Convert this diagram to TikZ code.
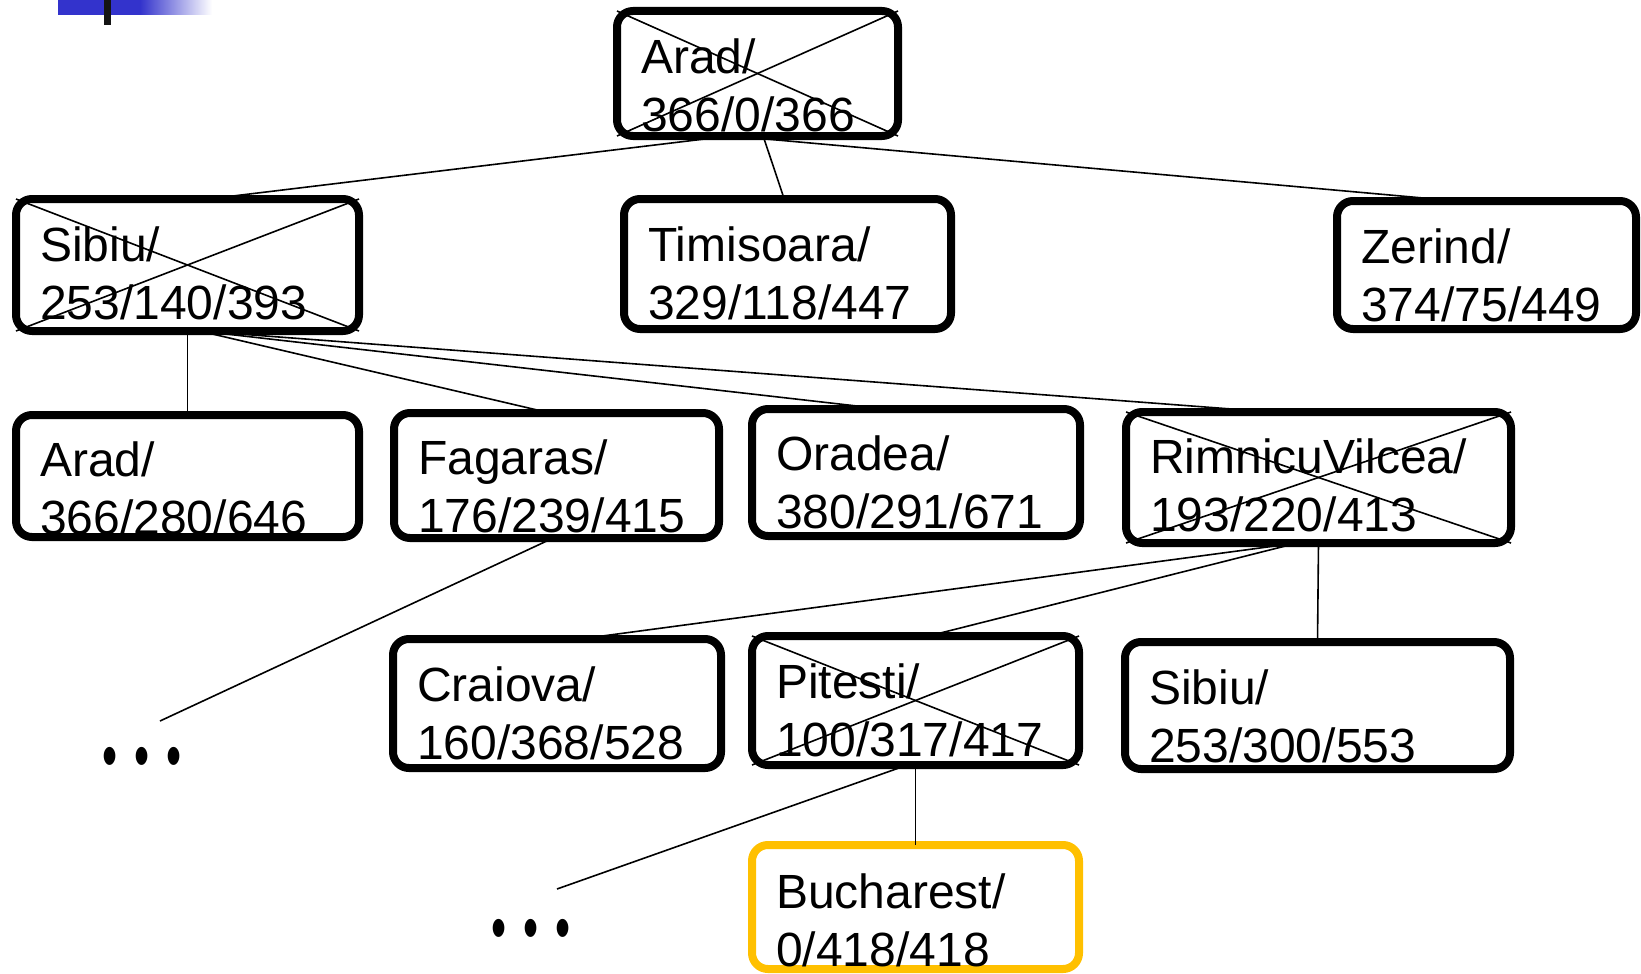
\documentclass[tikz,border=0pt]{standalone}
\usepackage{fontspec}
\setmainfont{Liberation Sans}
\usepackage{graphicx}
\usetikzlibrary{calc}
\definecolor{slideblue}{RGB}{51,51,204}
\definecolor{goalgold}{RGB}{255,192,0}
\definecolor{barblack}{RGB}{20,20,20}
\tikzset{
  box/.style={draw, line width=8pt, rounded corners=16pt, inner sep=0pt, outer sep=0pt},
  goal/.style={box, draw=goalgold},
  lbl/.style={anchor=north west, inner sep=0pt, align=left,
              font=\fontsize{48}{58}\selectfont},
  link/.style={line width=1.6pt},
  strike/.style={line width=1.6pt},
  dots/.style={inner sep=0pt, font=\fontsize{43}{43}\selectfont}
}
\newcommand\threedots{\scalebox{1}[1.55]{\textbullet\hspace{17pt}\textbullet\hspace{17pt}\textbullet}}
\begin{document}
\begin{tikzpicture}[x=1pt,y=-1pt]
\useasboundingbox (0,0) rectangle (1641,974);

% slide ornament in the corner
\fill[slideblue] (58,0) rectangle (140,15);
\shade[left color=slideblue, right color=white] (140,0) rectangle (212,15);
\fill[barblack] (104,0) rectangle (111,25);

% search tree nodes
\node[box, minimum width=281pt, minimum height=125pt] (a0) at (757.5,73.5) {};
\node[box, minimum width=343pt, minimum height=132pt] (s1) at (187.5,265) {};
\node[box, minimum width=327pt, minimum height=130pt] (t)  at (787.5,264) {};
\node[box, minimum width=299pt, minimum height=128pt] (z)  at (1486.5,265) {};
\node[box, minimum width=343pt, minimum height=122pt] (a2) at (187.5,476) {};
\node[box, minimum width=325pt, minimum height=125pt] (f)  at (556.5,475.5) {};
\node[box, minimum width=328pt, minimum height=127pt] (o)  at (916,472.5) {};
\node[box, minimum width=385pt, minimum height=131pt] (r)  at (1318.5,477.5) {};
\node[box, minimum width=328pt, minimum height=129pt] (c)  at (557,703.5) {};
\node[box, minimum width=327pt, minimum height=129pt] (p)  at (915.5,700.5) {};
\node[box, minimum width=385pt, minimum height=127pt] (s2) at (1317.5,705.5) {};
\node[goal, minimum width=327pt, minimum height=124pt] (b)  at (915.5,907) {};

% labels: city / h / g / f
\node[lbl] (a0t) at ($(a0.north west)+(24,28)$) {Arad/\\366/0/366};
\node[lbl] (s1t) at ($(s1.north west)+(24,28)$) {Sibiu/\\253/140/393};
\node[lbl] (tt)  at ($(t.north west)+(24,28)$)  {Timisoara/\\329/118/447};
\node[lbl] (zt)  at ($(z.north west)+(24,28)$)  {Zerind/\\374/75/449};
\node[lbl] (a2t) at ($(a2.north west)+(24,27)$) {Arad/\\366/280/646};
\node[lbl] (ft)  at ($(f.north west)+(24,27)$)  {Fagaras/\\176/239/415};
\node[lbl] (ot)  at ($(o.north west)+(24,27)$)  {Oradea/\\380/291/671};
\node[lbl] (rt)  at ($(r.north west)+(24,27)$)  {RimnicuVilcea/\\193/220/413};
\node[lbl] (ct)  at ($(c.north west)+(24,28)$)  {Craiova/\\160/368/528};
\node[lbl] (pt)  at ($(p.north west)+(24,28)$)  {Pitesti/\\100/317/417};
\node[lbl] (s2t) at ($(s2.north west)+(24,28)$) {Sibiu/\\253/300/553};
\node[lbl] (bt)  at ($(b.north west)+(24,29)$)  {Bucharest/\\0/418/418};

% elided subtrees
\node[dots] (d1) at (142,763) {\threedots};
\node[dots] (d2) at (531,935) {\threedots};
\coordinate (e1) at (160,721);
\coordinate (e2) at (557,889);

% tree edges
\draw[link] ($(a0.south west)!0.40!(a0.south east)$) -- ($(s1.north west)!0.56!(s1.north east)$);
\draw[link] ($(a0.south west)!0.52!(a0.south east)$) -- ($(t.north west)!0.49!(t.north east)$);
\draw[link] ($(a0.south west)!0.41!(a0.south east)$) -- ($(z.north west)!0.40!(z.north east)$);
\draw[link] (s1.south) -- (a2.north);
\draw[link] ($(s1.south west)!0.535!(s1.south east)$) -- ($(f.north west)!0.48!(f.north east)$);
\draw[link] ($(s1.south west)!0.535!(s1.south east)$) -- ($(o.north west)!0.40!(o.north east)$);
\draw[link] ($(s1.south west)!0.535!(s1.south east)$) -- ($(r.north west)!0.377!(r.north east)$);
\draw[link] ($(f.south west)!0.49!(f.south east)$) -- (e1);
\draw[link] ($(r.south west)!0.445!(r.south east)$) -- ($(c.north west)!0.57!(c.north east)$);
\draw[link] ($(r.south west)!0.445!(r.south east)$) -- ($(p.north west)!0.54!(p.north east)$);
\draw[link] (r.south) -- (s2.north);
\draw[link] ($(p.south west)!0.475!(p.south east)$) -- (e2);
\draw[link] (p.south) -- (b.north);

% expanded nodes are crossed out
\foreach \n in {a0,s1,r,p}{
  \draw[strike] (\n.north west) -- (\n.south east);
  \draw[strike] (\n.south west) -- (\n.north east);
}
\end{tikzpicture}
\end{document}
